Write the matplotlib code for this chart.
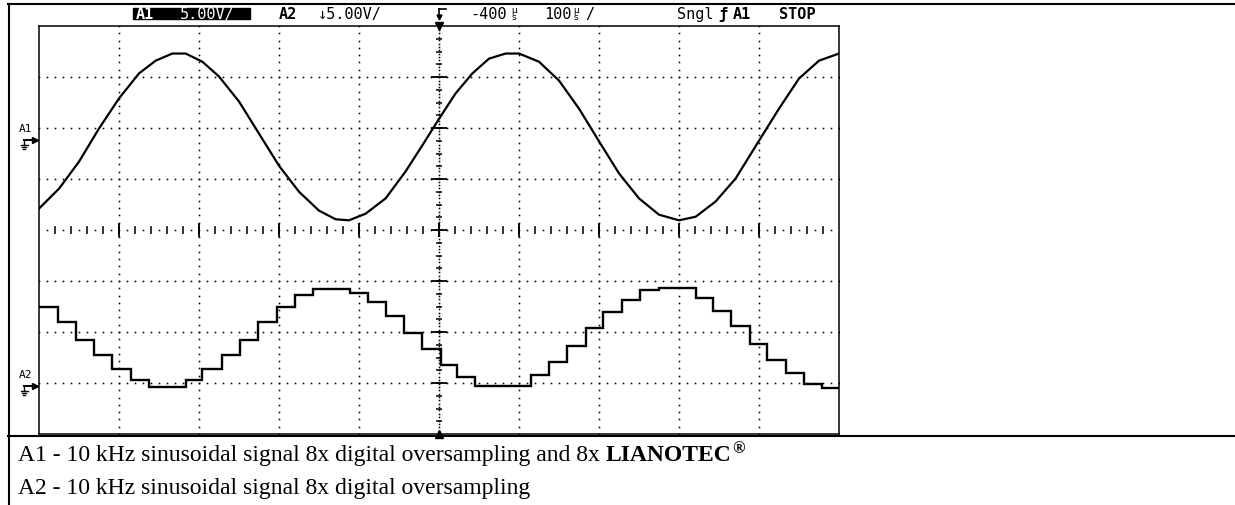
import numpy as np
import matplotlib.pyplot as plt
from matplotlib.patches import Rectangle

# A1 trace in divisions (x: 0..10, y: -4..4)
a1_x = [0, 0.25, 0.5, 0.75, 1.0, 1.25, 1.458, 1.667, 1.833, 2.042, 2.25, 2.5,
        2.75, 3.0, 3.25, 3.5, 3.708, 3.875, 4.083, 4.333, 4.583, 4.792, 5.0,
        5.208, 5.417, 5.625, 5.833, 6.0, 6.25, 6.5, 6.75, 7.0, 7.25, 7.5, 7.75,
        8.0, 8.208, 8.458, 8.708, 9.0, 9.25, 9.5, 9.75, 10.0]
a1_y = [0.42, 0.81, 1.34, 1.99, 2.58, 3.07, 3.32, 3.46, 3.46, 3.30, 3.01, 2.52,
        1.89, 1.26, 0.75, 0.38, 0.21, 0.19, 0.32, 0.62, 1.15, 1.66, 2.18,
        2.68, 3.07, 3.36, 3.46, 3.46, 3.30, 2.93, 2.38, 1.74, 1.11, 0.62, 0.30,
        0.19, 0.26, 0.56, 1.01, 1.75, 2.38, 2.97, 3.32, 3.46]

# A2 staircase: step edges and the level of each step (divisions)
a2_edges = [0, 0.242, 0.458, 0.688, 0.917, 1.146, 1.375, 1.833, 2.042, 2.283,
            2.513, 2.742, 2.979, 3.2, 3.429, 3.888, 4.117, 4.333, 4.563, 4.792,
            5.02, 5.229, 5.45, 6.146, 6.375, 6.604, 6.833, 7.054, 7.292, 7.513,
            7.75, 8.208, 8.425, 8.654, 8.883, 9.104, 9.333, 9.563, 9.792, 10.0]
a2_levels = [-1.51, -1.80, -2.15, -2.45, -2.73, -2.94, -3.08, -2.94, -2.73,
             -2.46, -2.15, -1.80, -1.51, -1.28, -1.15, -1.23, -1.42, -1.69,
             -2.01, -2.34, -2.65, -2.89, -3.05, -2.85, -2.58, -2.27, -1.93,
             -1.60, -1.38, -1.18, -1.13, -1.34, -1.58, -1.88, -2.23, -2.54,
             -2.81, -3.01, -3.09]

caption_a1 = "A1 - 10 kHz sinusoidal signal 8x digital oversampling and 8x"
caption_brand = "LIANOTEC"
caption_a2 = "A2 - 10 kHz sinusoidal signal 8x digital oversampling"

W, H = 1235, 506
fig = plt.figure(figsize=(W / 100, H / 100), dpi=100)

# overlay in pixel coordinates for the table lines and texts
ov = fig.add_axes([0, 0, 1, 1])
ov.set_xlim(0, W)
ov.set_ylim(H, 0)
ov.axis('off')

# scope screen
left, top, right, bottom = 39, 27, 839, 435
ax = fig.add_axes([left / W, 1 - bottom / H, (right - left) / W, (bottom - top) / H])
ax.set_xlim(0, 10)
ax.set_ylim(-4, 4)
ax.set_xticks([])
ax.set_yticks([])
for s in ax.spines.values():
    s.set_linewidth(1.1)

dot = dict(ls='none', marker='s', ms=1.15, mew=0, color='k')

# dotted graticule
xs = np.arange(0, 10.001, 0.1)
for yv in [-3, -2, -1, 1, 2, 3]:
    ax.plot(xs, np.full_like(xs, yv), **dot)
ys = np.arange(-4, 4.001, 1 / 7)
for xv in [1, 2, 3, 4, 6, 7, 8, 9]:
    ax.plot(np.full_like(ys, xv), ys, **dot)

# centre horizontal axis with ticks
mid = np.arange(0.1, 10, 0.2)
ax.plot(mid, np.zeros_like(mid), **dot)
minor = np.arange(0.2, 10, 0.2)
ax.vlines(minor, -0.07, 0.07, color='k', lw=1.1)
ax.vlines(np.arange(1, 10), -0.13, 0.13, color='k', lw=1.3)

# centre vertical axis with ticks
vd = np.arange(-4, 4.001, 0.066)
ax.plot(np.full_like(vd, 5), vd, **dot)
ax.hlines(np.arange(-3.75, 4, 0.25), 4.96, 5.04, color='k', lw=1.1)
ax.hlines(np.arange(-3, 4), 4.9, 5.1, color='k', lw=1.3)
ax.vlines([5], -0.13, 0.13, color='k', lw=1.3)

# trigger markers
ax.plot([5], [4], marker='v', ms=6, color='k', clip_on=False)
ax.plot([5], [-4], marker='^', ms=6, color='k', clip_on=False)

# traces
ax.plot(a1_x, a1_y, color='k', lw=1.6)
ax.stairs(a2_levels, a2_edges, baseline=None, color='k', lw=1.7)

# table lines
ov.plot([8, W], [5, 5], color='k', lw=1.5)
ov.plot([8.5, 8.5], [5, H], color='k', lw=1.5)
ov.plot([8, W], [436.5, 436.5], color='k', lw=1.5)

# channel ground markers
def ground(y, name):
    ov.text(26, y - 12, name, ha='center', va='center', fontsize=8,
            family='DejaVu Sans Mono')
    ov.plot([24, 32], [y, y], color='k', lw=1.4)
    ov.plot([34.5], [y], marker='>', ms=5, color='k')
    ov.plot([24, 24], [y, y + 5], color='k', lw=1.0)
    ov.plot([20.5, 27.5], [y + 5, y + 5], color='k', lw=1.0)
    ov.plot([22, 26], [y + 7, y + 7], color='k', lw=1.0)
    ov.plot([23.3, 24.7], [y + 9, y + 9], color='k', lw=1.0)

ground(141, "A1")
ground(387, "A2")

# header line of the scope
hdr = dict(va='center', ha='center', fontsize=11, family='DejaVu Sans Mono')
small = dict(ha='center', va='center', fontsize=6.5, family='DejaVu Sans')
ov.add_patch(Rectangle((133, 8.5), 117, 11.5, color='k'))
ov.text(145, 14.5, "A1", color='w', weight='bold', **hdr)
ov.text(207, 14.5, "5.00V/", color='w', **hdr)
ov.text(288, 14.5, "A2", weight='bold', **hdr)
ov.text(350, 14.5, "↓5.00V/", **hdr)
ov.plot([439, 446], [10, 10], color='k', lw=1.2)
ov.plot([439, 439], [10, 17], color='k', lw=1.2)
ov.plot([439], [18], marker='v', ms=3.5, color='k')
ov.text(489, 14.5, "-400", **hdr)
ov.text(514, 10.5, "µ", **small)
ov.text(514, 17.5, "s", **small)
ov.text(558, 14.5, "100", **hdr)
ov.text(576, 10.5, "µ", **small)
ov.text(576, 17.5, "s", **small)
ov.text(590, 14.5, "/", **hdr)
ov.text(695, 14.5, "Sngl", **hdr)
ov.text(723, 14.5, "ƒ", weight='bold', **hdr)
ov.text(742, 14.5, "A1", weight='bold', **hdr)
ov.text(797, 14.5, "STOP", weight='bold', **hdr)

# captions
cap = dict(family='Liberation Serif', fontsize=17, va='baseline')
t1 = ov.text(18, 461, caption_a1, **cap)
ov.text(18, 494, caption_a2, **cap)
fig.canvas.draw()
x1 = t1.get_window_extent().x1 + 6
t2 = ov.text(x1, 461, caption_brand, weight='bold', **cap)
fig.canvas.draw()
x2 = t2.get_window_extent().x1 + 0.5
ov.text(x2, 453, "®", family='Liberation Serif', fontsize=12, weight='bold',
        va='baseline')

fig.savefig('out.png', dpi=100)
